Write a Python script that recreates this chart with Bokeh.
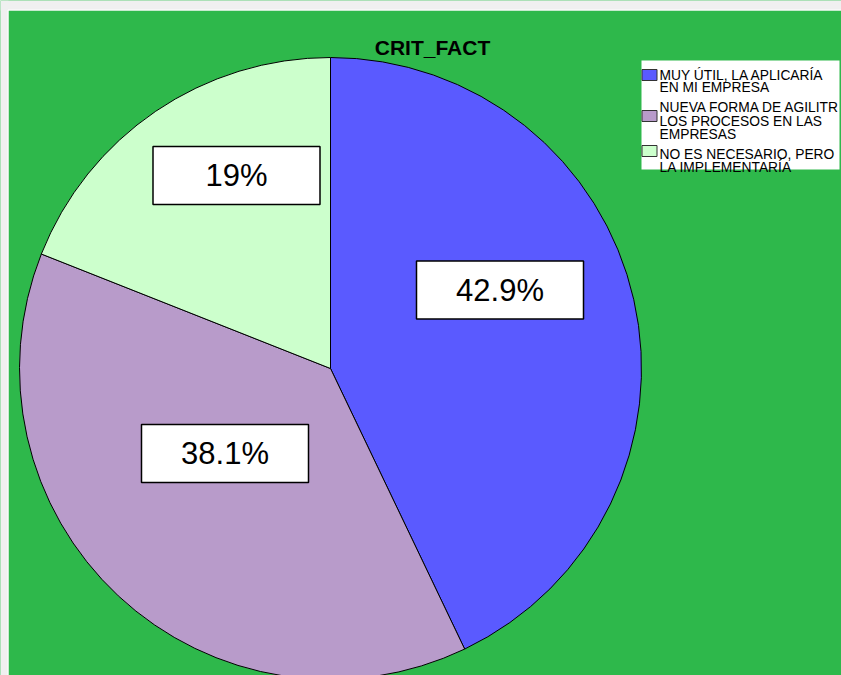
import math
from bokeh.plotting import figure
from bokeh.models import Range1d, ColumnDataSource
from bokeh.core.properties import value
from bokeh.embed import file_html
from bokeh.resources import INLINE

# ---- data ----
title_text = "CRIT_FACT"
categories = [
    "MUY ÚTIL, LA APLICARÍA\nEN MI EMPRESA",
    "NUEVA FORMA DE AGILITR\nLOS PROCESOS EN LAS\nEMPRESAS",
    "NO ES NECESARIO, PERO\nLA IMPLEMENTARÍA",
]
percents = [42.9, 38.1, 19.0]
pct_labels = ["42.9%", "38.1%", "19%"]
colors = ["#5a5aff", "#b89bca", "#ccffcc"]

# ---- layout (page pixel coordinates) ----
W, H = 841, 675
BL, BT = 8, 10          # grey strip left / top
PAGE_H = 675
cx, cy, R = 330, 368, 311
label_pos = [(499.5, 289.5), (224.5, 453), (236, 175)]
BG = "#2eb84b"
FONT = "Liberation Sans"

def Y(py):
    return PAGE_H - py

p = figure(width=W, height=H, output_backend="svg", toolbar_location=None,
           x_range=Range1d(0, W), y_range=Range1d(0, PAGE_H),
           min_border=0, min_border_left=0, min_border_right=0,
           min_border_top=0, min_border_bottom=0)
p.axis.visible = False
p.grid.visible = False
p.outline_line_color = None
p.background_fill_color = BG
p.border_fill_color = BG

# window strips (left / top)
p.quad(left=[0, 0], right=[BL, W], top=[PAGE_H, PAGE_H], bottom=[0, Y(BT)],
       fill_color="#f0f0f0", line_color=None)
p.segment(x0=[BL - 0.5, BL - 0.5], y0=[0, Y(BT) + 0.5], x1=[BL - 0.5, W],
          y1=[Y(BT) + 0.5, Y(BT) + 0.5], line_color="white", line_width=1)

# wedges
starts, ends = [], []
cum = 0.0
for v in percents:
    starts.append(math.pi / 2 - cum / 100 * 2 * math.pi)
    cum += v
    ends.append(math.pi / 2 - cum / 100 * 2 * math.pi)
src = ColumnDataSource(dict(start=starts, end=ends, color=colors))
p.wedge(x=cx, y=Y(cy), radius=R, start_angle="start", end_angle="end",
        direction="clock", fill_color="color", line_color="black",
        line_width=1, source=src)

# percentage label boxes
lx = [q[0] for q in label_pos]
ly = [Y(q[1]) for q in label_pos]
p.rect(x=lx, y=ly, width=167, height=58, fill_color="white",
       line_color="black", line_width=1.5)
p.text(x=lx, y=ly, text=pct_labels, text_align="center",
       text_baseline="middle", text_font=value(FONT),
       text_font_size="31px", text_color="black")

# title
p.text(x=[432], y=[Y(47)], text=[title_text], text_align="center",
       text_baseline="alphabetic", text_font=value(FONT),
       text_font_size="21px", text_font_style="bold", text_color="black")

# legend frame
p.quad(left=641, right=839, top=Y(60), bottom=Y(169), fill_color="white",
       line_color=None)
# swatches
sw_centers = [74.5, 115.5, 150.5]
p.rect(x=[649] * 3, y=[Y(c) for c in sw_centers], width=15, height=11,
       fill_color=colors, line_color="#333333", line_width=1)
# legend texts
baselines = [[75, 87], [107, 121, 134], [154, 167]]
tx, ty, tt = [], [], []
for cat, bls in zip(categories, baselines):
    for line, b in zip(cat.split("\n"), bls):
        tx.append(659)
        ty.append(Y(b))
        tt.append(line)
p.text(x=tx, y=ty, text=tt, text_align="left", text_baseline="alphabetic",
       text_font=value(FONT), text_font_size="13.8px", text_color="black")

open("out.html", "w").write(file_html(p, INLINE))
